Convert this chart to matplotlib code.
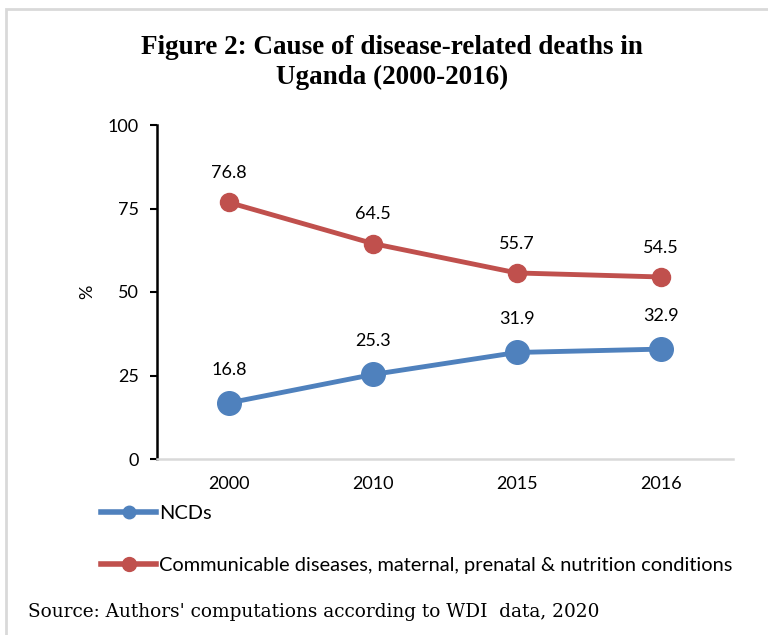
import numpy as np
import matplotlib.pyplot as plt
from matplotlib.lines import Line2D
from matplotlib.patches import Rectangle

years = ['2000', '2010', '2015', '2016']
ncds = [16.8, 25.3, 31.9, 32.9]
communicable = [76.8, 64.5, 55.7, 54.5]
yticks = [0, 25, 50, 75, 100]

blue = '#4f81bd'
red = '#c0504d'
sans = 'Lato'

fig = plt.figure(figsize=(7.68, 6.35), dpi=100)
ax = fig.add_axes([157/768, 1 - 459/635, 576/768, 334/635])

x = np.arange(len(years))
ax.plot(x, communicable, color=red, lw=3.5, marker='o', ms=13, zorder=3)
ax.plot(x, ncds, color=blue, lw=3.5, marker='o', ms=17, zorder=3)

# value labels above each point
for xi, v in zip(x, communicable):
    ax.annotate(f'{v}', (xi, v), xytext=(0, 21), textcoords='offset points',
                ha='center', va='center', fontsize=13, family=sans)
for xi, v in zip(x, ncds):
    ax.annotate(f'{v}', (xi, v), xytext=(0, 24), textcoords='offset points',
                ha='center', va='center', fontsize=13, family=sans)

ax.set_xlim(-0.5, len(years) - 0.5)
ax.set_ylim(0, 100)
ax.set_yticks(yticks)
ax.set_xticks(x)
ax.set_xticklabels(years)
for lab in ax.get_xticklabels() + ax.get_yticklabels():
    lab.set_family(sans)
    lab.set_fontsize(13)
ax.tick_params(axis='x', length=0, pad=12)
ax.tick_params(axis='y', length=5, width=1.5, pad=8)
ax.spines['top'].set_visible(False)
ax.spines['right'].set_visible(False)
ax.spines['left'].set_linewidth(1.8)
ax.spines['bottom'].set_color('#d9d9d9')
ax.spines['bottom'].set_linewidth(1.8)
ax.set_ylabel('%', family=sans, fontsize=13, labelpad=9)

fig.text(0.51, 1 - 47/635, 'Figure 2: Cause of disease-related deaths in',
         ha='center', va='center', family='Liberation Serif', weight='bold', fontsize=19.5)
fig.text(0.51, 1 - 77/635, 'Uganda (2000-2016)',
         ha='center', va='center', family='Liberation Serif', weight='bold', fontsize=19.5)

handles = [Line2D([], [], color=blue, lw=4, marker='o', ms=9),
           Line2D([], [], color=red, lw=4, marker='o', ms=10)]
labels = ['NCDs', 'Communicable diseases, maternal, prenatal & nutrition conditions']
fig.legend(handles, labels, loc='upper left', bbox_to_anchor=(91/768, 1 - 495/635),
           frameon=False, prop={'family': sans, 'size': 14.4},
           handlelength=2.75, handletextpad=0.15, labelspacing=1.75, borderpad=0)

fig.text(28/768, 1 - 612/635, "Source: Authors' computations according to WDI  data, 2020",
         ha='left', va='center', family='DejaVu Serif', fontsize=13.3)

# light frame around the figure box
fig.add_artist(Rectangle((6/768, -0.1), 2, 1 - 9/635 + 0.1, transform=fig.transFigure,
                         fill=False, edgecolor='#d9d9d9', lw=2))

fig.savefig('out.png', dpi=100)
